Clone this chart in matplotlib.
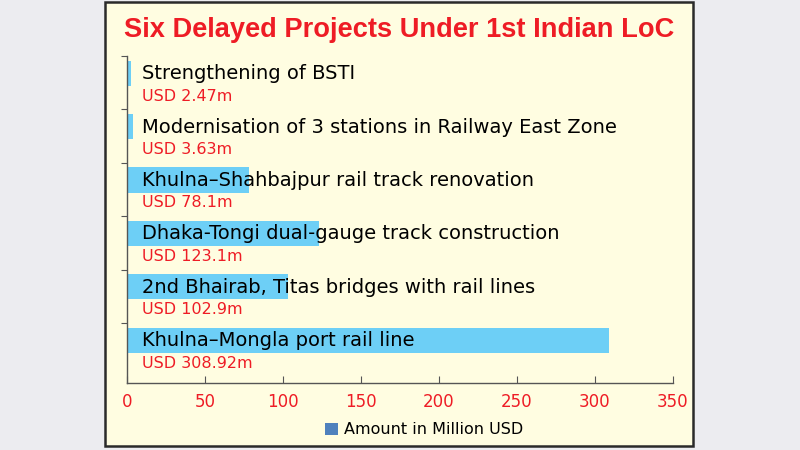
import matplotlib.pyplot as plt
from matplotlib.patches import Rectangle, Patch

names = [
    "Strengthening of BSTI",
    "Modernisation of 3 stations in Railway East Zone",
    "Khulna\u2013Shahbajpur rail track renovation",
    "Dhaka-Tongi dual-gauge track construction",
    "2nd Bhairab, Titas bridges with rail lines",
    "Khulna\u2013Mongla port rail line",
]
amounts = [2.47, 3.63, 78.1, 123.1, 102.9, 308.92]
value_labels = ["USD 2.47m", "USD 3.63m", "USD 78.1m", "USD 123.1m", "USD 102.9m", "USD 308.92m"]
xticks = [0, 50, 100, 150, 200, 250, 300, 350]

title = "Six Delayed Projects Under 1st Indian LoC"
legend_label = "Amount in Million USD"

RED = "#ee1c25"
BAR = "#6dcff6"
CREAM = "#fffde1"

plt.rcParams["font.family"] = ["DejaVu Sans"]

fig = plt.figure(figsize=(8, 4.5), dpi=100)
fig.patch.set_facecolor("#ececf0")

# cream panel with dark border, behind the axes
panel = Rectangle((105 / 800, 1 - 446 / 450), 588 / 800, 444 / 450,
                  transform=fig.transFigure, facecolor=CREAM,
                  edgecolor="#2a2a2a", linewidth=1.8, zorder=-5)
fig.patches.append(panel)

ax = fig.add_axes([127 / 800, 1 - 383 / 450, 546 / 800, 327 / 450])
ax.set_facecolor("none")

ypos = list(range(len(names)))
bar_y = [y - 0.18 for y in ypos]
ax.barh(bar_y, amounts, height=0.47, color=BAR, zorder=2)

for y, name, val in zip(ypos, names, value_labels):
    ax.text(9.5, y - 0.17, name, fontsize=14, color="black", va="center", ha="left", zorder=3)
    ax.text(9.5, y + 0.25, val, fontsize=11.5, color=RED, va="center", ha="left", zorder=3)

ax.set_xlim(0, 350)
ax.set_ylim(5.62, -0.5)
ax.set_xticks(xticks)
ax.set_xticklabels([str(t) for t in xticks], color=RED, fontsize=12)
ax.set_yticks([y - 0.5 for y in ypos])
ax.set_yticklabels([])

ax.tick_params(axis="x", direction="in", length=5, color="#555555", pad=7)
ax.tick_params(axis="y", direction="out", length=4, color="#555555")
for s in ["top", "right"]:
    ax.spines[s].set_visible(False)
for s in ["left", "bottom"]:
    ax.spines[s].set_color("#555555")
    ax.spines[s].set_linewidth(1.0)

fig.text(399 / 800, 1 - 30 / 450, title, ha="center", va="center",
         fontsize=19.6, fontweight="bold", color=RED,
         family=["Liberation Sans", "DejaVu Sans"])

fig.legend(handles=[Patch(facecolor="#4f81bd", label=legend_label)],
           loc="center", bbox_to_anchor=(424 / 800, 1 - 430 / 450),
           frameon=False, fontsize=11.5, handlelength=0.8, handleheight=0.8,
           handletextpad=0.4)

fig.savefig("out.png", dpi=100, facecolor=fig.get_facecolor())
